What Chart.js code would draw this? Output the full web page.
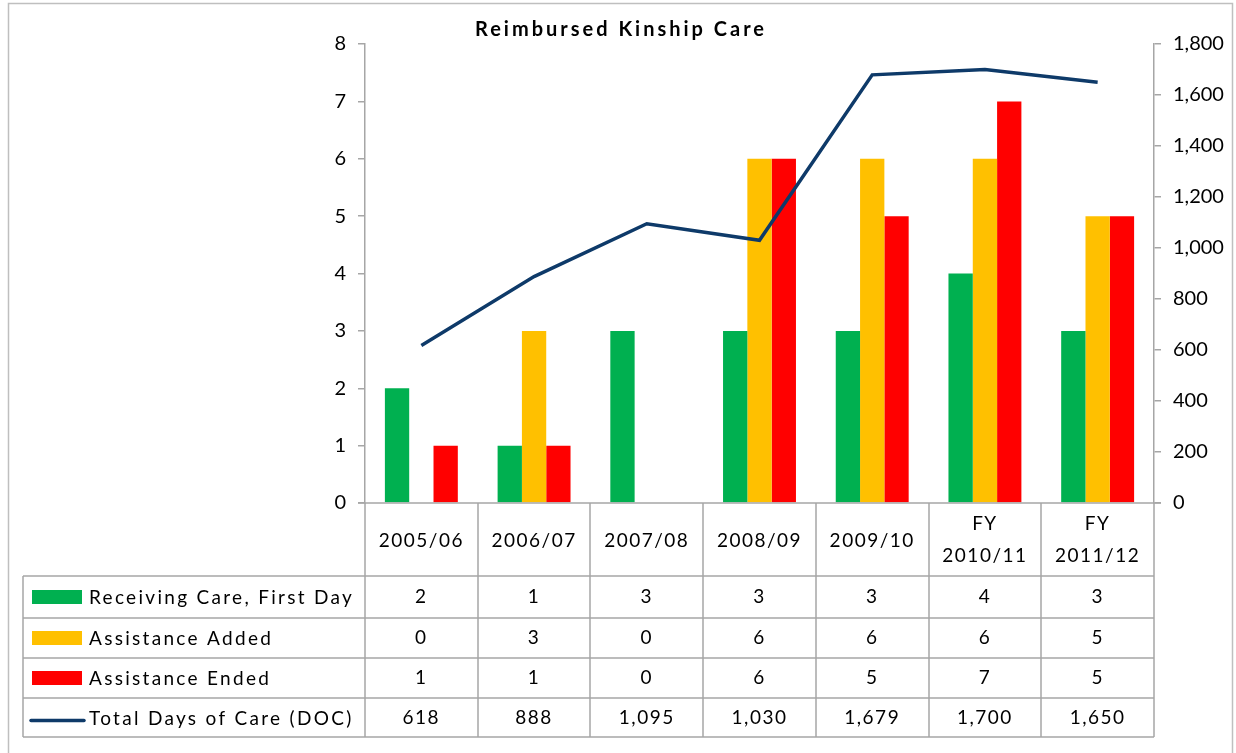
<!DOCTYPE html>
<html>
<head>
<meta charset="utf-8">
<script src="https://cdn.jsdelivr.net/npm/chart.js@4"></script>
<style>
  body { margin: 0; background: #fff; }
  #wrap { width: 1236px; height: 753px; position: relative; }
</style>
</head>
<body>
<div id="wrap"><canvas id="myChart"></canvas></div>
<script>
'use strict';

const categories = [['2005/06'], ['2006/07'], ['2007/08'], ['2008/09'], ['2009/10'], ['FY', '2010/11'], ['FY', '2011/12']];
const receivingCare = [2, 1, 3, 3, 3, 4, 3];
const assistanceAdded = [0, 3, 0, 6, 6, 6, 5];
const assistanceEnded = [1, 1, 0, 6, 5, 7, 5];
const totalDays = [618, 888, 1095, 1030, 1679, 1700, 1650];
const seriesNames = ['Receiving Care, First Day', 'Assistance Added', 'Assistance Ended', 'Total Days of Care (DOC)'];
const seriesColors = ['#00B050', '#FFC000', '#FF0000', '#0E3A69'];

const FONT = 'Lato, "Open Sans", sans-serif';
const GRID = '#A6A6A6';

const tablePlugin = {
	id: 'dataTable',
	afterDraw(chart) {
		const ctx = chart.ctx;
		const x = chart.scales.x;
		const area = chart.chartArea;
		const colW = x.width / categories.length;
		const rows = [area.bottom, 576, 618, 658, 698, 737];
		const legendLeft = 23;

		ctx.save();
		// outer frame
		ctx.strokeStyle = '#BFBFBF';
		ctx.lineWidth = 1.5;
		ctx.strokeRect(8.5, 3.5, 1224, 760);

		// title
		ctx.fillStyle = '#000';
		ctx.font = 'bold 20px ' + FONT;
		ctx.letterSpacing = '3px';
		ctx.textAlign = 'center';
		ctx.textBaseline = 'middle';
		ctx.fillText('Reimbursed Kinship Care', 621, 30);

		// grid lines of table
		ctx.strokeStyle = GRID;
		ctx.lineWidth = 1.5;
		ctx.beginPath();
		// horizontal axis line (with ticks on both sides)
		ctx.moveTo(area.left - 7, rows[0]);
		ctx.lineTo(area.right + 7, rows[0]);
		for (let r = 1; r < rows.length; r++) {
			ctx.moveTo(legendLeft, rows[r]);
			ctx.lineTo(area.right, rows[r]);
		}
		for (let i = 0; i <= categories.length; i++) {
			const px = Math.round(x.getPixelForValue(i) - colW / 2);
			ctx.moveTo(px, rows[0]);
			ctx.lineTo(px, rows[5]);
		}
		ctx.moveTo(legendLeft, rows[1]);
		ctx.lineTo(legendLeft, rows[5]);
		ctx.stroke();

		// category labels
		ctx.font = '19px ' + FONT;
		ctx.letterSpacing = '1.5px';
		ctx.fillStyle = '#000';
		categories.forEach((lab, i) => {
			const cx = x.getPixelForValue(i);
			if (lab.length === 1) {
				ctx.fillText(lab[0], cx, 541);
			} else {
				ctx.fillText(lab[0], cx, 524);
				ctx.fillText(lab[1], cx, 556);
			}
		});

		// values
		const seriesData = [receivingCare, assistanceAdded, assistanceEnded, totalDays];
		seriesData.forEach((vals, r) => {
			const cy = (rows[r + 1] + rows[r + 2]) / 2;
			vals.forEach((v, i) => {
				ctx.fillText(v.toLocaleString('en-US'), x.getPixelForValue(i), cy);
			});
			// legend key
			if (r < 3) {
				ctx.fillStyle = seriesColors[r];
				ctx.fillRect(32, cy - 7, 50, 14);
			} else {
				ctx.strokeStyle = seriesColors[r];
				ctx.lineWidth = 3.5;
				ctx.lineCap = 'round';
				ctx.beginPath();
				ctx.moveTo(31, cy + 3);
				ctx.lineTo(84, cy + 3);
				ctx.stroke();
			}
			ctx.fillStyle = '#000';
			ctx.textAlign = 'left';
			ctx.letterSpacing = '2.3px';
			ctx.fillText(seriesNames[r], 89, cy + 1);
			ctx.textAlign = 'center';
			ctx.letterSpacing = '1.5px';
		});
		ctx.restore();
	}
};

const ctx = document.getElementById('myChart').getContext('2d');

const myChart = new Chart(ctx, {
	type: 'bar',
	data: {
		labels: categories,
		datasets: [
			{
				type: 'line',
				label: seriesNames[3],
				data: totalDays,
				yAxisID: 'y1',
				borderColor: seriesColors[3],
				borderWidth: 3.5,
				pointRadius: 0,
				tension: 0,
				order: 0,
			},
			{
				label: seriesNames[0],
				data: receivingCare,
				backgroundColor: seriesColors[0],
				order: 1,
			},
			{
				label: seriesNames[1],
				data: assistanceAdded,
				backgroundColor: seriesColors[1],
				order: 1,
			},
			{
				label: seriesNames[2],
				data: assistanceEnded,
				backgroundColor: seriesColors[2],
				order: 1,
			},
		],
	},
	options: {
		responsive: true,
		maintainAspectRatio: false,
		animation: false,
		layout: {
			padding: { left: 315, right: 7, top: 44, bottom: 250 },
		},
		datasets: {
			bar: {
				categoryPercentage: 0.647,
				barPercentage: 1,
				borderWidth: 0,
			},
		},
		plugins: {
			legend: { display: false },
			tooltip: { enabled: false },
		},
		scales: {
			x: {
				display: false,
			},
			y: {
				position: 'left',
				min: 0,
				max: 8,
				afterFit(scale) { scale.width = 50; },
				ticks: {
					stepSize: 1,
					color: '#000',
					padding: 12,
					font: { family: FONT, size: 20 },
				},
				grid: {
					drawOnChartArea: false,
					tickLength: 7,
					color: GRID,
					lineWidth: 1.5,
				},
				border: { color: GRID, width: 1.5 },
			},
			y1: {
				position: 'right',
				min: 0,
				max: 1800,
				afterFit(scale) { scale.width = 75; },
				ticks: {
					stepSize: 200,
					color: '#000',
					padding: 12,
					font: { family: FONT, size: 20 },
				},
				grid: {
					drawOnChartArea: false,
					tickLength: 7,
					color: GRID,
					lineWidth: 1.5,
				},
				border: { color: GRID, width: 1.5 },
			},
		},
	},
	plugins: [tablePlugin],
});
</script>
</body>
</html>
